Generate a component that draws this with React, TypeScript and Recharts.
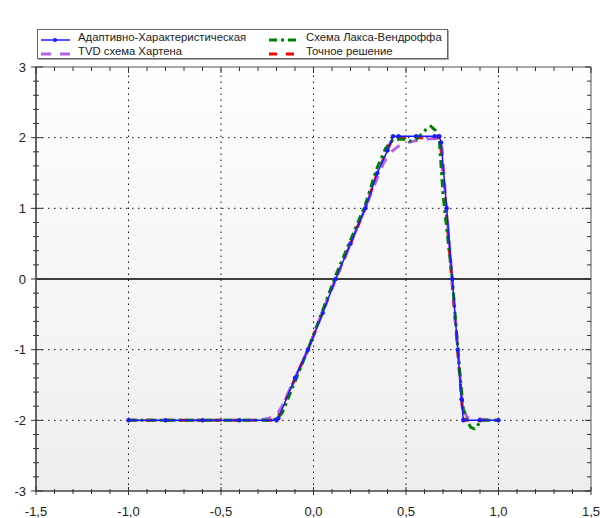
import React from 'react';
import { LineChart, Line, XAxis, YAxis, ReferenceLine, CartesianGrid } from 'recharts';

// ---- data ----
const exactX = [-1.0, -0.2, -0.03, 0.12, 0.28, 0.345, 0.4, 0.43, 0.685, 0.81, 1.0];
const exactY = [-2, -2, -1, 0, 1, 1.5, 1.83, 2, 2, -2, -2];

const adaptX = [-1.0, -0.8, -0.6, -0.4, -0.2, -0.19, -0.1, -0.03, 0.05, 0.12, 0.2, 0.28, 0.345, 0.4, 0.43, 0.46, 0.555, 0.655, 0.68, 0.69, 0.72, 0.75, 0.78, 0.8, 0.81, 0.9, 1.0];
const adaptY = [-2, -2, -2, -2, -2, -1.97, -1.4, -1.0, -0.48, 0, 0.5, 1.0, 1.5, 1.82, 2.02, 2.02, 2.02, 2.02, 2.02, 1.93, 1.0, 0, -1, -1.7, -2, -2, -2];

const tvdX = [-1.0, -0.3, -0.24, -0.2, -0.17, -0.1, -0.03, 0.12, 0.28, 0.34, 0.38, 0.42, 0.46, 0.52, 0.6, 0.67, 0.695, 0.72, 0.75, 0.78, 0.805, 0.83, 0.88, 1.0];
const tvdY = [-2, -2, -1.97, -1.93, -1.8, -1.4, -1.0, 0, 1.0, 1.4, 1.65, 1.8, 1.88, 1.94, 1.98, 1.99, 1.85, 0.95, 0, -1, -1.8, -1.96, -1.98, -2];

const lwX = [-1.0, -0.25, -0.2, -0.17, -0.1, -0.03, 0.12, 0.28, 0.34, 0.39, 0.43, 0.48, 0.52, 0.555, 0.58, 0.61, 0.635, 0.66, 0.68, 0.7, 0.75, 0.79, 0.81, 0.83, 0.85, 0.87, 0.89, 0.92, 1.0];
const lwY = [-2, -2, -1.98, -1.9, -1.45, -1.0, 0.05, 1.05, 1.55, 1.85, 1.97, 1.98, 1.95, 1.98, 2.04, 2.12, 2.16, 2.1, 1.97, 1.2, 0.0, -1.3, -1.85, -2.0, -2.1, -2.12, -2.06, -2.0, -2.0];

const xTicks = [-1.5, -1.4, -1.3, -1.2, -1.1, -1.0, -0.9, -0.8, -0.7, -0.6, -0.5, -0.4, -0.3, -0.2, -0.1, 0, 0.1, 0.2, 0.3, 0.4, 0.5, 0.6, 0.7, 0.8, 0.9, 1.0, 1.1, 1.2, 1.3, 1.4, 1.5];
const yTicks = [-3, -2.8, -2.6, -2.4, -2.2, -2, -1.8, -1.6, -1.4, -1.2, -1, -0.8, -0.6, -0.4, -0.2, 0, 0.2, 0.4, 0.6, 0.8, 1, 1.2, 1.4, 1.6, 1.8, 2, 2.2, 2.4, 2.6, 2.8, 3];
const xMajorTicks = [-1.5, -1.0, -0.5, 0, 0.5, 1.0, 1.5];
const xTickLabels = ['-1,5', '-1,0', '-0,5', '0,0', '0,5', '1,0', '1,5'];
const yMajorTicks = [-3, -2, -1, 0, 1, 2, 3];
const yTickLabels = ['-3', '-2', '-1', '0', '1', '2', '3'];
const xGrid = [-1.0, -0.5, 0, 0.5, 1.0];
const yGrid = [-2, -1, 1, 2];

const legendLabels = ['Адаптивно-Характеристическая', 'TVD схема Хартена', 'Схема Лакса-Вендроффа', 'Точное решение'];

const toPts = (xs: number[], ys: number[]) => xs.map((x, i) => ({ x, y: ys[i] }));
const exactData = toPts(exactX, exactY);
const adaptData = toPts(adaptX, adaptY);
const tvdData = toPts(tvdX, tvdY);
const lwData = toPts(lwX, lwY);

const BLUE = '#1a1aff';
const PURPLE = '#b562e6';
const GREEN = '#008000';
const RED = '#ff0000';
const FONT = '"Liberation Sans", Arial, sans-serif';

const idx = (arr: number[], v: number) => arr.findIndex((a) => Math.abs(a - v) < 1e-6);

const BottomTick = (props: any) => {
  const { x, y, payload } = props;
  const i = idx(xMajorTicks, payload.value);
  const major = i >= 0;
  return (
    <g>
      <line x1={x} x2={x} y1={major ? y - 4 : y - 2} y2={major ? y + 4 : y + 3} stroke="#333" strokeWidth={1} />
      {major && (
        <text x={x} y={y + 25} textAnchor="middle" fontSize={13} fontFamily={FONT} fill="#222">
          {xTickLabels[i]}
        </text>
      )}
    </g>
  );
};

const TopTick = (props: any) => {
  const { x, y, payload } = props;
  const major = idx(xMajorTicks, payload.value) >= 0;
  return <line x1={x} x2={x} y1={y} y2={y + (major ? 6 : 4)} stroke="#333" strokeWidth={1} />;
};

const LeftTick = (props: any) => {
  const { x, y, payload } = props;
  const i = idx(yMajorTicks, payload.value);
  const major = i >= 0;
  return (
    <g>
      <line x1={major ? x - 5 : x - 3} x2={major ? x + 7 : x + 3} y1={y} y2={y} stroke="#333" strokeWidth={1} />
      {major && (
        <text x={x - 10} y={y + 4.5} textAnchor="end" fontSize={13} fontFamily={FONT} fill="#222">
          {yTickLabels[i]}
        </text>
      )}
    </g>
  );
};

const RightTick = (props: any) => {
  const { x, y, payload } = props;
  const major = idx(yMajorTicks, payload.value) >= 0;
  return <line x1={x - (major ? 6 : 4)} x2={x} y1={y} y2={y} stroke="#333" strokeWidth={1} />;
};

const Sample = ({ kind }: { kind: number }) => {
  if (kind === 0)
    return (
      <svg width={30} height={8}>
        <line x1={0} x2={29} y1={4} y2={4} stroke={BLUE} strokeWidth={1.5} />
        <circle cx={14} cy={4} r={2} fill={BLUE} />
      </svg>
    );
  if (kind === 1)
    return (
      <svg width={30} height={8}>
        <line x1={0} x2={29} y1={4} y2={4} stroke={PURPLE} strokeWidth={3} strokeDasharray="10 9" />
      </svg>
    );
  if (kind === 2)
    return (
      <svg width={30} height={8}>
        <line x1={0} x2={30} y1={4} y2={4} stroke={GREEN} strokeWidth={3} strokeDasharray="8 4 3 4" />
      </svg>
    );
  return (
    <svg width={30} height={8}>
      <line x1={0} x2={30} y1={4} y2={4} stroke={RED} strokeWidth={3} strokeDasharray="8 9" />
    </svg>
  );
};

const legendPos = [
  { left: 3, top: 4 },
  { left: 3, top: 18 },
  { left: 231, top: 4 },
  { left: 231, top: 18 },
];

const Legend = () => (
  <div
    style={{
      position: 'absolute',
      left: 37,
      top: 29,
      width: 409,
      height: 28,
      border: '1px solid #666',
      boxShadow: '1px 1px 0 #aaa',
      background: '#fff',
      fontFamily: FONT,
      fontSize: 11.3,
      color: '#222',
    }}
  >
    {legendLabels.map((lab, i) => (
      <div key={i} style={{ position: 'absolute', left: legendPos[i].left, top: legendPos[i].top, height: 8, whiteSpace: 'nowrap' }}>
        <div style={{ position: 'absolute', left: 0, top: 0 }}>
          <Sample kind={i} />
        </div>
        <div style={{ position: 'absolute', left: 37, top: -4, lineHeight: '14px' }}>{lab}</div>
      </div>
    ))}
  </div>
);

export default function App() {
  return (
    <div style={{ position: 'absolute', left: 0, top: 0, width: 600, height: 518, background: '#fff' }}>
      <LineChart width={600} height={518} margin={{ top: 57, right: 0, bottom: 0, left: 0 }}>
        <defs>
          <linearGradient id="bgGrad" x1="0" y1="0" x2="0" y2="1">
            <stop offset="0%" stopColor="#fefefe" />
            <stop offset="100%" stopColor="#eeeeee" />
          </linearGradient>
        </defs>
        <CartesianGrid horizontal={false} vertical={false} fill="url(#bgGrad)" fillOpacity={1} />
        <XAxis
          dataKey="x"
          type="number"
          domain={[-1.5, 1.5]}
          ticks={xTicks}
          interval={0}
          height={27}
          tickSize={0}
          tickMargin={0}
          tickLine={false}
          tick={<BottomTick />}
          axisLine={{ stroke: '#444', strokeWidth: 1.5 }}
          allowDataOverflow
        />
        <XAxis
          xAxisId="top"
          orientation="top"
          dataKey="x"
          type="number"
          domain={[-1.5, 1.5]}
          ticks={xTicks}
          interval={0}
          height={10}
          tickSize={0}
          tickMargin={0}
          tickLine={false}
          tick={<TopTick />}
          axisLine={{ stroke: '#555', strokeWidth: 1 }}
          allowDataOverflow
        />
        <YAxis
          type="number"
          domain={[-3, 3]}
          ticks={yTicks}
          interval={0}
          width={36}
          tickSize={0}
          tickMargin={0}
          tickLine={false}
          tick={<LeftTick />}
          axisLine={{ stroke: '#666', strokeWidth: 2 }}
          allowDataOverflow
        />
        <YAxis
          yAxisId="right"
          orientation="right"
          type="number"
          domain={[-3, 3]}
          ticks={yTicks}
          interval={0}
          width={9}
          tickSize={0}
          tickMargin={0}
          tickLine={false}
          tick={<RightTick />}
          axisLine={{ stroke: '#555', strokeWidth: 1 }}
          allowDataOverflow
        />
        {xGrid.map((v) => (
          <ReferenceLine key={'gx' + v} x={v} stroke="#111" strokeWidth={1} strokeDasharray="1.5 4.5" />
        ))}
        {yGrid.map((v) => (
          <ReferenceLine key={'gy' + v} y={v} stroke="#111" strokeWidth={1} strokeDasharray="1.5 4.5" />
        ))}
        <ReferenceLine y={0} stroke="#000" strokeWidth={1.5} />
        <Line data={exactData} dataKey="y" type="linear" stroke={RED} strokeWidth={3} strokeDasharray="8 9" dot={false} isAnimationActive={false} />
        <Line data={tvdData} dataKey="y" type="linear" stroke={PURPLE} strokeWidth={3} strokeDasharray="10 9" dot={false} isAnimationActive={false} />
        <Line data={lwData} dataKey="y" type="linear" stroke={GREEN} strokeWidth={3} strokeDasharray="8 4 3 4" dot={false} isAnimationActive={false} />
        <Line
          data={adaptData}
          dataKey="y"
          type="linear"
          stroke={BLUE}
          strokeWidth={1.5}
          dot={{ r: 2, fill: BLUE, stroke: BLUE, strokeWidth: 0.5 }}
          isAnimationActive={false}
        />
      </LineChart>
      <Legend />
    </div>
  );
}
